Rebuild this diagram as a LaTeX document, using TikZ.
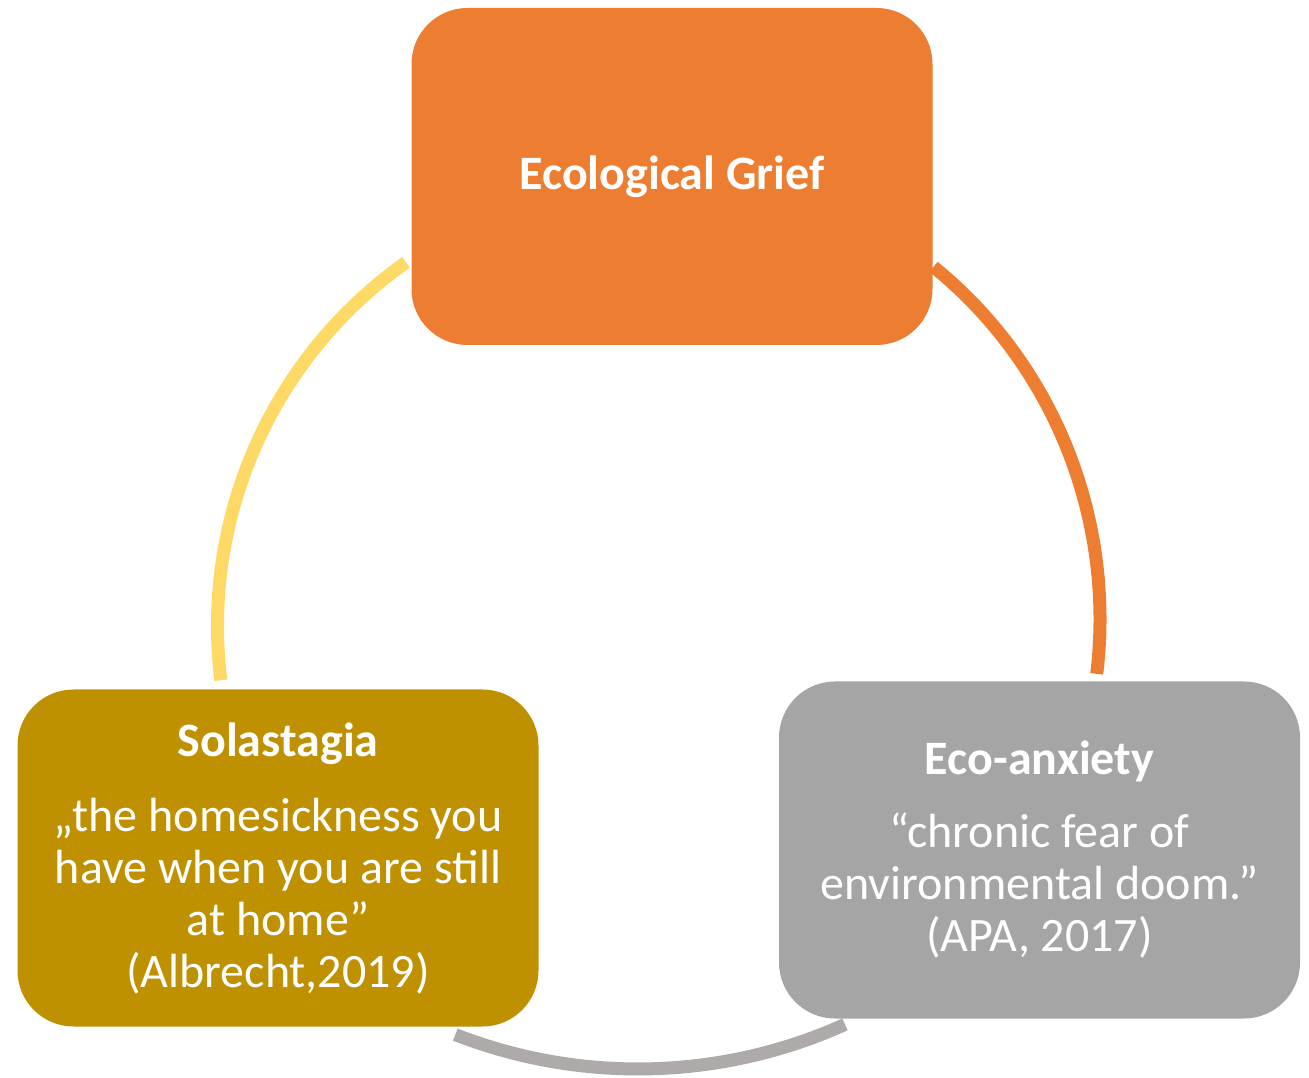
\documentclass[tikz,border=0pt]{standalone}
\usepackage{fontspec}
\setmainfont{Carlito}
\usetikzlibrary{positioning}
\definecolor{griefcol}{HTML}{ED7D31}
\definecolor{solacol}{HTML}{BF9000}
\definecolor{anxcol}{HTML}{A5A5A5}
\definecolor{yellowarc}{HTML}{FFD966}
\definecolor{grayarc}{HTML}{AEAAAA}
\begin{document}
\begin{tikzpicture}[x=1pt, y=1pt, box node/.style={rectangle,rounded corners=56pt,minimum width=521pt,minimum height=337pt,inner sep=0pt}, title node/.style={font=\fontsize{48}{52}\selectfont\bfseries,text=white,inner sep=0pt}, text node/.style={font=\fontsize{48}{52}\selectfont,text=white,align=center,inner sep=0pt}, link/.style={line width=13pt}]
\useasboundingbox (0,0) rectangle (1309,1077);
% boxes
\node[box node,fill=griefcol] (grief) at (672,900.5) {};
\node[box node,fill=solacol] (sola) at (278,219) {};
\node[box node,fill=anxcol] (anx) at (1039.5,227) {};
% texts (base of a multi-line node = its last line)
\node[title node,anchor=base] (grieft) at ([yshift=-182]grief.north) {Ecological Grief};
\node[title node,anchor=base] (solat) at ([yshift=-67]sola.north) {Solastagia};
\node[text node,anchor=base] (solab) at ([yshift=-231]solat.base) {„the homesickness you\\have when you are still\\at home”\\(Albrecht,2019)};
\node[title node,anchor=base] (anxt) at ([yshift=-93]anx.north) {Eco-anxiety};
\node[text node,anchor=base] (anxb) at ([yshift=-177]anxt.base) {“chronic fear of\\environmental doom.”\\(APA, 2017)};
% arcs
\coordinate (c) at (659,458);
\coordinate (cy) at (662.5,451);
\coordinate (cg) at (638,511);
\draw[link,draw=griefcol] ([shift={(51.5:441 and 450)}]c) arc[start angle=51.5,end angle=-7,x radius=441,y radius=450];
\draw[link,draw=yellowarc] ([shift={(125.2:445)}]cy) arc[start angle=125.2,end angle=187,radius=445];
\draw[link,draw=grayarc] ([shift={(248.7:503)}]cg) arc[start angle=248.7,end angle=294.3,radius=503];
\end{tikzpicture}
\end{document}
